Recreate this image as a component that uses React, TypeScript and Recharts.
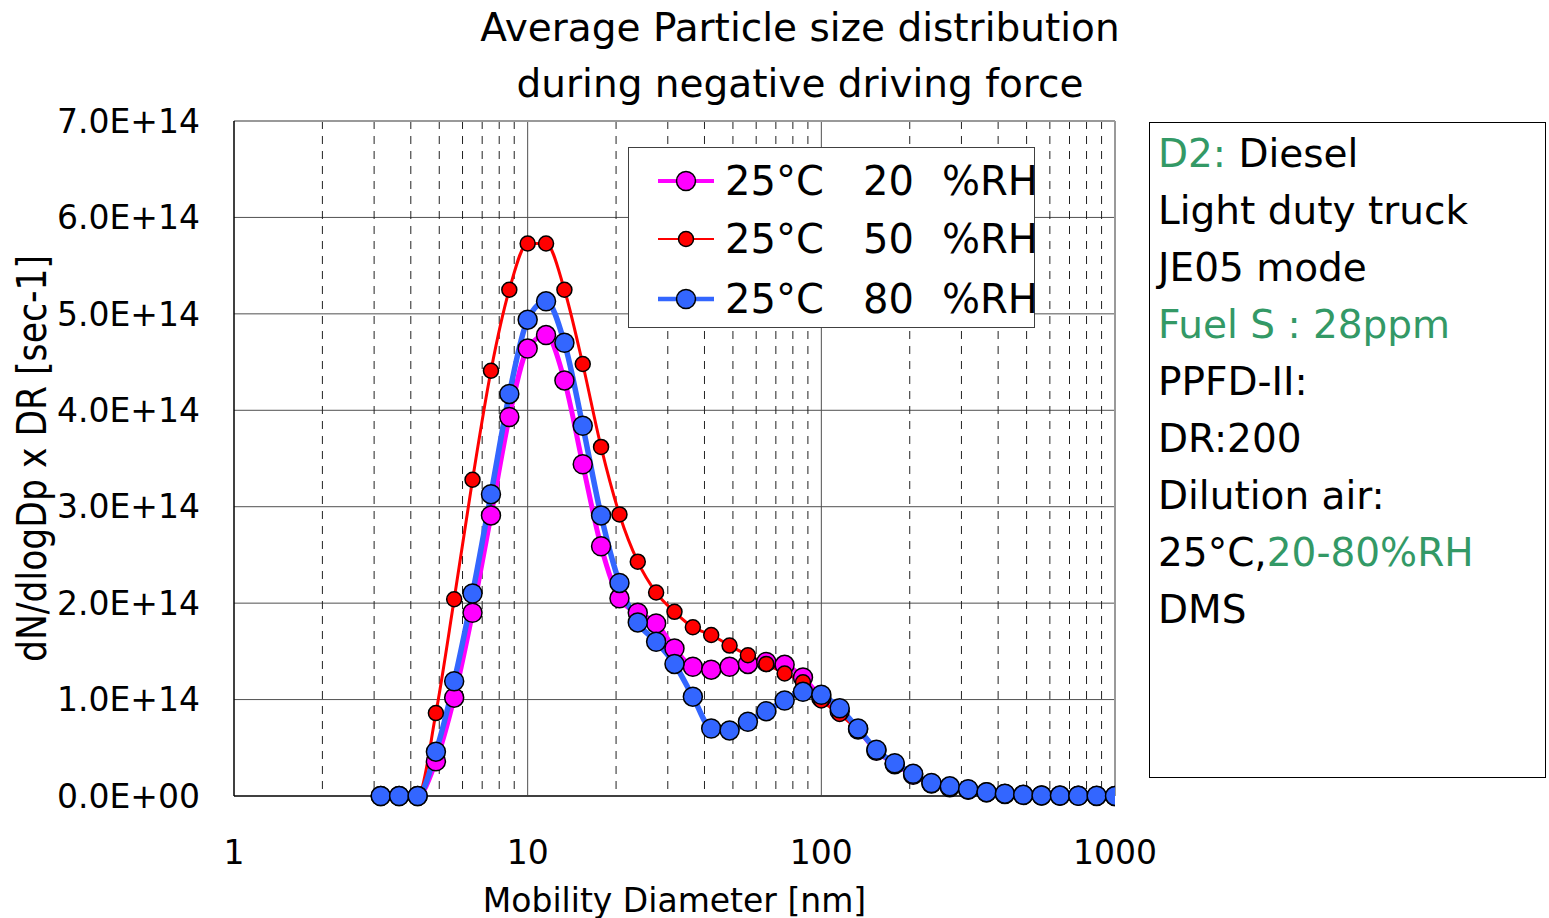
import { LineChart, Line, XAxis, YAxis, CartesianGrid, Label } from "recharts";

// Particle size distribution (DMS, 16 channels per decade) at three humidity levels.

const FONT = "'DejaVu Sans', Verdana, sans-serif";
const NARROW_FONT = "'DejaVu Sans Condensed', 'DejaVu Sans', sans-serif";
const GREEN = "#339966";

const DIAMETER_NM = [
  3.16, 3.65, 4.22, 4.87, 5.62, 6.49, 7.5, 8.66,
  10, 11.55, 13.34, 15.4, 17.78, 20.54, 23.71, 27.38,
  31.62, 36.52, 42.17, 48.7, 56.23, 64.94, 74.99, 86.6,
  100, 115.5, 133.4, 154, 177.8, 205.4, 237.1, 273.8,
  316.2, 365.2, 421.7, 487, 562.3, 649.4, 749.9, 866,
  1000,
];

// values in units of 1E+14 sec-1
const RH20 = [
  0, 0, 0, 0.36, 1.02, 1.9, 2.91, 3.93,
  4.64, 4.78, 4.31, 3.44, 2.59, 2.05, 1.9, 1.79,
  1.53, 1.34, 1.31, 1.34, 1.37, 1.39, 1.36, 1.23,
  1.02, 0.88, 0.69, 0.47, 0.33, 0.22, 0.13, 0.09,
  0.065, 0.04, 0.022, 0.01, 0.005, 0.003, 0.002, 0.001,
  0,
];
const RH50 = [
  0, 0, 0, 0.86, 2.04, 3.28, 4.41, 5.25,
  5.73, 5.73, 5.25, 4.48, 3.62, 2.92, 2.43, 2.11,
  1.91, 1.75, 1.67, 1.56, 1.46, 1.37, 1.27, 1.18,
  0.99, 0.85, 0.68, 0.47, 0.33, 0.23, 0.13, 0.09,
  0.065, 0.04, 0.022, 0.01, 0.005, 0.003, 0.002, 0.001,
  0,
];
const RH80 = [
  0, 0, 0, 0.46, 1.19, 2.1, 3.13, 4.17,
  4.94, 5.13, 4.7, 3.84, 2.91, 2.21, 1.8, 1.6,
  1.37, 1.03, 0.7, 0.68, 0.77, 0.88, 0.99, 1.08,
  1.05, 0.91, 0.7, 0.48, 0.34, 0.23, 0.135, 0.1,
  0.07, 0.04, 0.024, 0.012, 0.006, 0.004, 0.003, 0.002,
  0.001,
];
const UNIT = 1e14;

const X_TICKS = [1, 10, 100, 1000];
const Y_TICKS = [0, 1e14, 2e14, 3e14, 4e14, 5e14, 6e14, 7e14];
const Y_GRID = [1e14, 2e14, 3e14, 4e14, 5e14, 6e14];
const MAJOR_X = [10, 100];
const MINOR_X = [2, 3, 4, 5, 6, 7, 8, 9, 20, 30, 40, 50, 60, 70, 80, 90, 200, 300, 400, 500, 600, 700, 800, 900];

const SERIES = [
  { key: "rh20", temp: "25°C", rh: "20", color: "#FF00FF", width: 5, r: 9.5 },
  { key: "rh50", temp: "25°C", rh: "50", color: "#FF0000", width: 3, r: 7.5 },
  { key: "rh80", temp: "25°C", rh: "80", color: "#3366FF", width: 5.5, r: 9.5 },
];

const data = DIAMETER_NM.map((d, i) => ({
  d,
  rh20: RH20[i] * UNIT,
  rh50: RH50[i] * UNIT,
  rh80: RH80[i] * UNIT,
}));

function sciLabel(v: number) {
  if (v === 0) return "0.0E+00";
  const exp = Math.floor(Math.log10(v) + 1e-9);
  const mant = v / Math.pow(10, exp);
  return `${mant.toFixed(1)}E+${String(exp).padStart(2, "0")}`;
}

const gridX = (vals: number[]) => ({ xAxis, offset }: any) =>
  vals.map((v) =>
    typeof xAxis?.scale === "function"
      ? xAxis.scale(v)
      : offset.left + (offset.width * Math.log10(v)) / 3
  );

const gridY = (vals: number[]) => ({ yAxis, offset }: any) =>
  vals.map((v) =>
    typeof yAxis?.scale === "function"
      ? yAxis.scale(v)
      : offset.top + offset.height * (1 - v / 7e14)
  );

function YTitle(props: any) {
  const vb = props.viewBox ?? { x: 0, y: 121, width: 234, height: 675 };
  const cx = vb.x + 32;
  const cy = vb.y + vb.height / 2;
  return (
    <text
      x={cx}
      y={cy}
      transform={`rotate(-90 ${cx} ${cy})`}
      textAnchor="middle"
      dominantBaseline="central"
      fontFamily={NARROW_FONT}
      fontSize={40}
      style={{ fontStretch: "condensed" }}
      textLength={407}
      lengthAdjust="spacingAndGlyphs"
      fill="#000"
    >
      dN/dlogDp x DR [sec-1]
    </text>
  );
}

function XTitle(props: any) {
  const vb = props.viewBox ?? { x: 234, y: 796, width: 881, height: 122 };
  return (
    <text
      x={vb.x + vb.width / 2}
      y={vb.y + 104}
      textAnchor="middle"
      dominantBaseline="central"
      fontFamily={FONT}
      fontSize={33}
      fill="#000"
    >
      Mobility Diameter [nm]
    </text>
  );
}

function RhLegend() {
  const rowCenters = [33, 91, 151];
  return (
    <div
      style={{
        position: "absolute",
        left: 628,
        top: 147,
        width: 407,
        height: 181,
        boxSizing: "border-box",
        border: "1.5px solid #404040",
        background: "#fff",
        fontFamily: FONT,
        fontSize: 40,
        color: "#000",
      }}
    >
      {SERIES.map((s, i) => (
        <div
          key={s.key}
          style={{ position: "absolute", left: 0, top: rowCenters[i] - 30, height: 60, width: 405, lineHeight: "60px" }}
        >
          <svg width={58} height={30} style={{ position: "absolute", left: 28, top: 15 }}>
            <line x1={1} y1={15} x2={57} y2={15} stroke={s.color} strokeWidth={s.width - 1} />
            <circle cx={29} cy={15} r={s.r} fill={s.color} stroke="#000" strokeWidth={1.5} />
          </svg>
          <span style={{ position: "absolute", left: 96 }}>{s.temp}</span>
          <span style={{ position: "absolute", left: 234 }}>{s.rh}</span>
          <span style={{ position: "absolute", left: 313 }}>%RH</span>
        </div>
      ))}
    </div>
  );
}

const INFO_LINES: { parts: { text: string; green?: boolean }[] }[] = [
  { parts: [{ text: "D2:", green: true }, { text: " Diesel" }] },
  { parts: [{ text: "Light duty truck" }] },
  { parts: [{ text: "JE05 mode" }] },
  { parts: [{ text: "Fuel S : 28ppm", green: true }] },
  { parts: [{ text: "PPFD-II:" }] },
  { parts: [{ text: "DR:200" }] },
  { parts: [{ text: "Dilution air:" }] },
  { parts: [{ text: "25°C," }, { text: "20-80%RH", green: true }] },
  { parts: [{ text: "DMS" }] },
];

export default function App() {
  return (
    <div
      style={{
        position: "absolute",
        left: 0,
        top: 0,
        width: 1549,
        height: 918,
        background: "#fff",
        overflow: "hidden",
      }}
    >
      <div
        style={{
          position: "absolute",
          left: 400,
          top: 0,
          width: 800,
          textAlign: "center",
          fontFamily: FONT,
          fontSize: 39,
          lineHeight: "56px",
          color: "#000",
          whiteSpace: "nowrap",
        }}
      >
        Average Particle size distribution
        <br />
        during negative driving force
      </div>

      <div style={{ position: "absolute", left: 0, top: 0 }}>
        <LineChart width={1549} height={918} data={data} margin={{ top: 121, right: 434, bottom: 0, left: 0 }}>
          {/* solid horizontal gridlines and decade lines */}
          <CartesianGrid
            stroke="#505050"
            strokeWidth={1}
            horizontalCoordinatesGenerator={gridY(Y_GRID)}
            verticalCoordinatesGenerator={gridX(MAJOR_X)}
          />
          {/* dashed minor lines inside each decade */}
          <CartesianGrid
            horizontal={false}
            stroke="#222"
            strokeWidth={1}
            strokeDasharray="8 7"
            verticalCoordinatesGenerator={gridX(MINOR_X)}
          />
          {/* grey frame on the top and right */}
          <CartesianGrid
            stroke="#999"
            strokeWidth={2}
            horizontalCoordinatesGenerator={gridY([7e14])}
            verticalCoordinatesGenerator={gridX([1000])}
          />
          <XAxis
            dataKey="d"
            type="number"
            scale="log"
            domain={[1, 1000]}
            ticks={X_TICKS}
            allowDataOverflow
            height={122}
            tickSize={0}
            tickMargin={45}
            axisLine={{ stroke: "#404040", strokeWidth: 2 }}
            tick={{ fontFamily: FONT, fontSize: 33, fill: "#000" }}
          >
            <Label content={XTitle} />
          </XAxis>
          <YAxis
            type="number"
            domain={[0, 7e14]}
            ticks={Y_TICKS}
            width={234}
            tickSize={0}
            tickMargin={34}
            tickFormatter={sciLabel}
            axisLine={{ stroke: "#000", strokeWidth: 1.5 }}
            tick={{ fontFamily: FONT, fontSize: 33, fill: "#000" }}
          >
            <Label content={YTitle} />
          </YAxis>
          {SERIES.map((s) => (
            <Line
              key={s.key}
              dataKey={s.key}
              type="monotone"
              stroke={s.color}
              strokeWidth={s.width}
              dot={{ r: s.r, fill: s.color, stroke: "#000", strokeWidth: 1.5 }}
              activeDot={false}
              isAnimationActive={false}
            />
          ))}
        </LineChart>
      </div>

      <RhLegend />

      <div
        style={{
          position: "absolute",
          left: 1149,
          top: 122,
          width: 397,
          height: 656,
          boxSizing: "border-box",
          border: "1.5px solid #000",
          paddingLeft: 8,
          paddingTop: 2,
          fontFamily: FONT,
          fontSize: 39,
          lineHeight: "57px",
          color: "#000",
          whiteSpace: "nowrap",
        }}
      >
        {INFO_LINES.map((line, i) => (
          <div key={i}>
            {line.parts.map((p, j) => (
              <span key={j} style={{ color: p.green ? GREEN : "#000" }}>
                {p.text}
              </span>
            ))}
          </div>
        ))}
      </div>
    </div>
  );
}
